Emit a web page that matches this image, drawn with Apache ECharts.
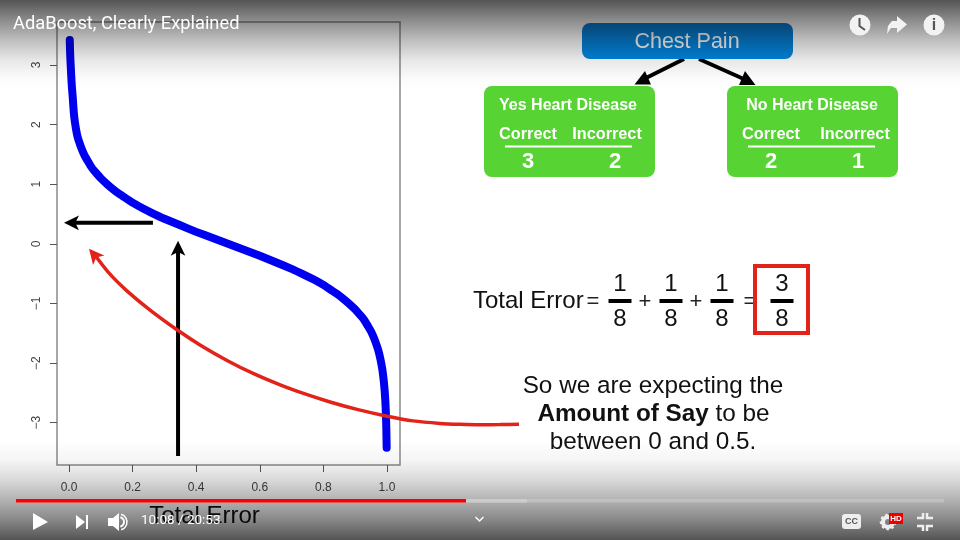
<!DOCTYPE html>
<html>
<head>
<meta charset="utf-8">
<style>html,body{margin:0;padding:0;background:#fff}#c{width:960px;height:540px}</style>
<script src="https://cdn.jsdelivr.net/npm/echarts@6/dist/echarts.min.js"></script>
</head>
<body>
<div id="c"></div>
<script>
// Data
const xTicks = [0, 0.2, 0.4, 0.6, 0.8, 1];
const yTicks = [-3, -2, -1, 0, 1, 2, 3];
const totalError = [0.0025,0.003,0.004,0.005,0.007,0.009,0.0116,0.015,0.0189,0.025,0.03,0.04,0.05,0.06,0.07,0.08,0.09,0.1,0.12,0.14,0.16,0.18,0.2,0.23,0.26,0.3,0.35,0.4,0.45,0.5,0.55,0.6,0.65,0.7,0.74,0.77,0.8,0.82,0.84,0.86,0.88,0.9,0.91,0.92,0.93,0.94,0.95,0.96,0.97,0.975,0.98,0.985,0.9875,0.99,0.993,0.995,0.996,0.997,0.998,0.9985,0.999];
const amountOfSay = [3.42,3.30,3.14,3.03,2.82,2.64,2.47,2.21,2.03,1.84,1.74,1.59,1.47,1.38,1.29,1.22,1.16,1.10,1.00,0.91,0.83,0.76,0.69,0.60,0.52,0.42,0.31,0.20,0.10,0,-0.10,-0.20,-0.31,-0.42,-0.52,-0.60,-0.69,-0.76,-0.83,-0.91,-1.00,-1.10,-1.16,-1.22,-1.29,-1.38,-1.47,-1.59,-1.74,-1.83,-1.95,-2.09,-2.19,-2.30,-2.48,-2.65,-2.76,-2.90,-3.11,-3.25,-3.42];
const upArrowX = [0.343, 0.343];
const upArrowY = [-3.56, -0.10];
const upTip = [0.343, 0.05];
const leftArrowX = [0.264, 0.016];
const leftArrowY = [0.352, 0.352];
const leftTip = [-0.0157, 0.352];
const redCurveX = [1.415,1.355,1.292,1.23,1.167,1.082,1.0,0.909,0.821,0.742,0.664,0.579,0.497,0.412,0.343,0.255,0.182,0.129,0.079];
const redCurveY = [-3.025,-3.032,-3.034,-3.027,-3.012,-2.97,-2.891,-2.782,-2.653,-2.518,-2.366,-2.174,-1.956,-1.696,-1.455,-1.112,-0.789,-0.51,-0.17];
const redTip = [0.063, -0.084];
const videoTitle = 'AdaBoost, Clearly Explained';
const timeText = '10:08 / 20:53';
const xName = 'Total Error';

function pathSeries(xs, ys, color, width, axisIdx, smooth){
  return {type:'line',clip:false,silent:true,symbol:'none',smooth:smooth||false,
    xAxisIndex:axisIdx,yAxisIndex:axisIdx,lineStyle:{color:color,width:width},
    data:xs.map((x,i)=>[x,ys[i]])};
}
function headSeries(tip, color, size, rotate, axisIdx){
  return {type:'scatter',clip:false,silent:true,xAxisIndex:axisIdx,yAxisIndex:axisIdx,
    symbol:'arrow',symbolSize:size,symbolRotate:rotate,symbolKeepAspect:false,
    itemStyle:{color:color,opacity:1},data:[tip]};
}
const F = 'Liberation Sans';
const txt = (x,y,s,size,weight,fill,z,extra) => ({type:'text',x:x,y:y+1,z:z||10,silent:true,style:Object.assign({text:s,fontFamily:F,fontSize:size,fontWeight:weight||'normal',fill:fill||'#111',align:'center',verticalAlign:'middle'},extra||{})});
const rect = (x,y,w,h,fill,r,z) => ({type:'rect',z:z||10,silent:true,shape:{x:x,y:y,width:w,height:h,r:r||0},style:{fill:fill}});
const seg = (x1,y1,x2,y2,c,w,z) => ({type:'line',z:z||10,silent:true,shape:{x1:x1,y1:y1,x2:x2,y2:y2},style:{stroke:c,lineWidth:w}});
const poly = (pts,fill,z) => ({type:'polygon',z:z||10,silent:true,shape:{points:pts},style:{fill:fill}});
const grad = (a,b) => ({type:'linear',x:0,y:0,x2:0,y2:1,colorStops:[{offset:0,color:a},{offset:1,color:b}]});
const shade = stops => ({type:'linear',x:0,y:0,x2:0,y2:1,colorStops:stops.map(s=>({offset:s[0],color:'rgba(0,0,0,'+s[1]+')'}))});

const els = [];
// Decision stump
els.push(seg(684,59,644,79,'#000',4), poly([[634.5,84.5],[645,71],[651,84.5]],'#000'));
els.push(seg(699,59,746,80,'#000',4), poly([[755.5,85],[745,71],[739,85]],'#000'));
els.push(rect(582,23,211,36,grad('#0a78c8','#0088e2'),8));
els.push(txt(687,41,'Chest Pain',21.5,'normal','#fff'));
function leaf(x, title, cx1, cx2, nx1, nx2, n1, n2, lx1, lx2, titleX){
  els.push(rect(x,86,171,91,'#57d333',8));
  els.push(txt(titleX,105,title,16,'bold','#fff'));
  els.push(txt(cx1,133.5,'Correct',16.3,'bold','#fff'));
  els.push(txt(cx2,133.5,'Incorrect',16.3,'bold','#fff'));
  els.push(seg(lx1,146.5,lx2,146.5,'#fff',2));
  els.push(txt(nx1,160.5,n1,22,'bold','#fff'));
  els.push(txt(nx2,160.5,n2,22,'bold','#fff'));
}
leaf(484,'Yes Heart Disease',528,607,528,615,'3','2',505,632,568);
leaf(727,'No Heart Disease',771,855,771,858,'2','1',748,875,812);
// Equation
els.push(txt(473,300,'Total Error',24,'normal','#111',10,{align:'left'}));
els.push(txt(593,301,'=',22,'normal','#222'));
[[620,'1'],[671,'1'],[722,'1'],[782,'3']].forEach(a=>{
  els.push(txt(a[0],283,a[1],24,'normal','#111'));
  els.push(seg(a[0]-11.5,301,a[0]+11.5,301,'#000',4));
  els.push(txt(a[0],318,'8',24,'normal','#111'));
});
els.push(txt(645,301,'+',22,'normal','#222'), txt(696,301,'+',22,'normal','#222'), txt(750,301,'=',22,'normal','#222'));
els.push({type:'rect',z:11,silent:true,shape:{x:755,y:266,width:53,height:67},style:{fill:'none',stroke:'#e2231a',lineWidth:4}});
// Caption
els.push(txt(653,385,'So we are expecting the',24.3,'normal','#111'));
els.push({type:'text',x:653.5,y:414,z:10,silent:true,style:{text:'{b|Amount of Say} to be',fontFamily:F,fontSize:24.3,fill:'#111',align:'center',verticalAlign:'middle',rich:{b:{fontFamily:F,fontSize:24.3,fontWeight:'bold',fill:'#111'}}}});
els.push(txt(653,441,'between 0 and 0.5.',24.3,'normal','#111'));
// Player shading
els.push(rect(0,0,960,92,shade([[0,.67],[.22,.45],[.44,.25],[.66,.09],[.85,.015],[1,0]]),0,50));
els.push(rect(0,440,960,100,shade([[0,0],[.2,.04],[.4,.15],[.6,.3],[.8,.47],[1,.67]]),0,50));
// Player chrome
const Z=60;
els.push(txt(13,23.5,videoTitle,18.3,'normal','#fff',Z,{align:'left',fontFamily:'Roboto'}));
els.push(rect(16,499,928,3.5,'rgba(255,255,255,0.2)',0,Z));
els.push(rect(466,499,61,3.5,'rgba(205,205,205,0.9)',0,Z));
els.push(rect(16,499,450,3.5,'#f00',0,Z));
els.push(poly([[33,513],[48,522],[33,530]],'#fff',Z));
els.push(poly([[76,515],[85,522],[76,529]],'#fff',Z), rect(86,515,2,14,'#fff',0,Z));
els.push(poly([[108,518],[113,518],[119,513],[119,531],[113,526],[108,526]],'#fff',Z));
els.push({type:'arc',z:Z,silent:true,shape:{cx:119,cy:522,r:5,startAngle:-1.3,endAngle:1.3},style:{fill:'none',stroke:'#fff',lineWidth:2}});
els.push({type:'arc',z:Z,silent:true,shape:{cx:119,cy:522,r:8,startAngle:-1.3,endAngle:1.3},style:{fill:'none',stroke:'#fff',lineWidth:1.5}});
els.push(txt(141,520,timeText,13.5,'normal','#fff',Z,{align:'left',fontFamily:'Roboto'}));
els.push({type:'polyline',z:Z,silent:true,shape:{points:[[475.5,517],[479.5,521],[483.5,517]]},style:{fill:'none',stroke:'#fff',lineWidth:1.5}});
els.push(rect(842,514,19,15,'#eee',3,Z));
els.push(txt(851.5,521,'CC',9,'bold','#555',Z));
els.push({type:'circle',z:Z,silent:true,shape:{cx:888,cy:522,r:5},style:{fill:'none',stroke:'#eee',lineWidth:4}});
els.push({type:'circle',z:Z,silent:true,shape:{cx:888,cy:522,r:7},style:{fill:'none',stroke:'#eee',lineWidth:2.5,lineDash:[2.5,2.5]}});
els.push(rect(889,513,14,11,'#e00',0,Z+1));
els.push(txt(896,518,'HD',8,'bold','#fff',Z+2));
[[917,518,923,518,923,513],[933,518,927,518,927,513],[917,526,923,526,923,531],[933,526,927,526,927,531]].forEach(p=>{
  els.push({type:'polyline',z:Z,silent:true,shape:{points:[[p[0],p[1]],[p[2],p[3]],[p[4],p[5]]]},style:{fill:'none',stroke:'#eee',lineWidth:2.5}});
});
els.push({type:'circle',z:Z,silent:true,shape:{cx:860,cy:25,r:10.5},style:{fill:'#f2f2f2'}});
els.push({type:'polyline',z:Z+1,silent:true,shape:{points:[[859.5,18],[859.5,26],[865,30]]},style:{fill:'none',stroke:'#555',lineWidth:2}});
els.push(poly([[897,16],[907,24.5],[897,33],[897,28],[891,28],[887,34],[888,26],[892,21],[897,21]],'#f2f2f2',Z));
els.push({type:'circle',z:Z,silent:true,shape:{cx:934,cy:25,r:10.5},style:{fill:'#f2f2f2'}});
els.push(txt(934,24.5,'i',16,'bold','#555',Z+1));

const axisText = {color:'#444',fontFamily:F,fontSize:12};
const option = {
  animation:false,
  backgroundColor:'#fff',
  grid:[
    {left:57,right:560,top:22,bottom:75,show:true,borderColor:'#8a8a8a',borderWidth:1.5,backgroundColor:'#fff',outerBoundsMode:'none',containLabel:false},
    {left:57,right:420,top:22,bottom:75,show:false,outerBoundsMode:'none',containLabel:false}
  ],
  xAxis:[{
    type:'value',gridIndex:0,min:-0.0377,max:1.041,
    name:xName,nameLocation:'middle',nameGap:27,
    nameTextStyle:{fontFamily:F,fontSize:24,color:'#111',padding:[12,48,0,0]},
    axisLine:{show:false,onZero:false},splitLine:{show:false},
    axisTick:{show:true,length:7,lineStyle:{color:'#555',width:1},customValues:xTicks},
    axisLabel:Object.assign({margin:17,customValues:xTicks,formatter:v=>Number(v).toFixed(1)},axisText)
  },{type:'value',gridIndex:1,min:-0.0377,max:1.4811,show:false,axisLine:{onZero:false},splitLine:{show:false}}],
  yAxis:[{
    type:'value',gridIndex:0,min:-3.71,max:3.72,
    axisLine:{show:false,onZero:false},splitLine:{show:false},
    axisTick:{show:true,length:7,lineStyle:{color:'#555',width:1},customValues:yTicks},
    axisLabel:Object.assign({margin:14,rotate:90,customValues:yTicks,formatter:v=>String(v).replace('-','\u2212')},axisText)
  },{type:'value',gridIndex:1,min:-3.71,max:3.72,show:false,axisLine:{onZero:false},splitLine:{show:false}}],
  series:[
    {type:'line',silent:true,symbol:'none',smooth:0.12,xAxisIndex:0,yAxisIndex:0,lineStyle:{color:'#0000f0',width:8,cap:'round',join:'round'},
     data:totalError.map((x,i)=>[x,amountOfSay[i]])},
    pathSeries(upArrowX,upArrowY,'#000',4,0),
    headSeries(upTip,'#000',[11,15],0,0),
    pathSeries(leftArrowX,leftArrowY,'#000',4,0),
    headSeries(leftTip,'#000',[11,15],90,0),
    pathSeries(redCurveX,redCurveY,'#e2231a',3.5,1,0.3),
    headSeries(redTip,'#e2231a',[11,15],40,1)
  ],
  graphic:{elements:els}
};
echarts.init(document.getElementById('c'),null,{renderer:'canvas'}).setOption(option);
</script>
</body>
</html>
